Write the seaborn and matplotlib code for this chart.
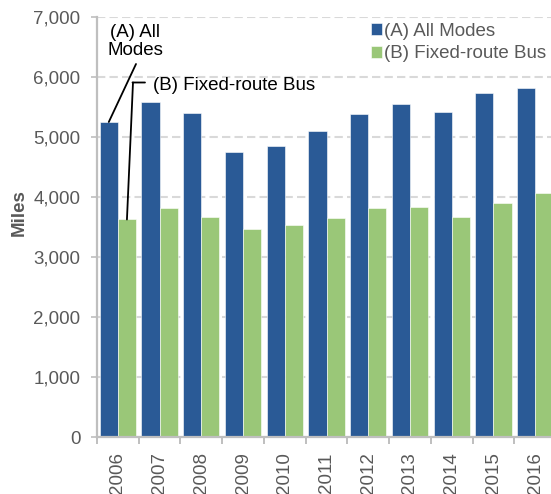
import matplotlib
matplotlib.use("Agg")
import matplotlib.pyplot as plt
import matplotlib.ticker as mticker
import seaborn as sns
import pandas as pd
import numpy as np


years = ["2006", "2007", "2008", "2009", "2010", "2011",
         "2012", "2013", "2014", "2015", "2016"]
all_modes = [5250, 5590, 5405, 4755, 4850, 5100, 5380, 5555, 5410, 5735, 5810]
fixed_route_bus = [3625, 3815, 3665, 3470, 3530, 3645, 3815, 3835, 3665, 3900, 4060]
series_names = ["(A) All Modes", "(B) Fixed-route Bus"]
y_ticks = [0, 1000, 2000, 3000, 4000, 5000, 6000, 7000]

BLUE = "#2A5A96"
GREEN = "#9AC778"
GRAY_TXT = "#595959"
GRAY_AX = "#BFBFBF"
FS = 13.5


def main():
    sns.set_style("white")
    plt.rcParams["font.family"] = ["Liberation Sans", "DejaVu Sans"]

    df = pd.DataFrame({
        "year": years * 2,
        "miles": all_modes + fixed_route_bus,
        "mode": [series_names[0]] * len(years) + [series_names[1]] * len(years),
    })

    W, H = 551, 494
    fig = plt.figure(figsize=(W / 100, H / 100), dpi=100)
    ax = fig.add_axes([97 / W, 57 / H, 459 / W, 420 / H])

    sns.barplot(data=df, x="year", y="miles", hue="mode", order=years,
                hue_order=series_names, palette=[BLUE, GREEN],
                width=0.87, gap=0, saturation=1, edgecolor="white",
                linewidth=0.4, ax=ax)

    ax.set_xlim(-0.5, len(years) - 0.5)
    ax.set_ylim(0, 7000)
    ax.set_yticks(y_ticks)
    ax.yaxis.set_major_formatter(mticker.StrMethodFormatter("{x:,.0f}"))

    # grid
    ax.set_axisbelow(True)
    ax.yaxis.grid(True, color="#D9D9D9", linewidth=1.5, linestyle=(0, (4, 2)))
    ax.xaxis.grid(False)

    for side in ["top", "right"]:
        ax.spines[side].set_visible(False)
    for side in ["left", "bottom"]:
        ax.spines[side].set_color(GRAY_AX)
        ax.spines[side].set_linewidth(1.6)

    ax.tick_params(axis="y", which="major", direction="out", length=4,
                   width=1.2, color=GRAY_AX, labelsize=FS,
                   labelcolor=GRAY_TXT, pad=8, left=True)
    ax.set_xticks(np.arange(len(years)))
    ax.set_xticklabels(years, rotation=90)
    ax.set_xticks(np.arange(len(years) + 1) - 0.5, minor=True)
    ax.tick_params(axis="x", which="major", length=0, labelsize=FS,
                   labelcolor=GRAY_TXT, pad=11)
    ax.tick_params(axis="x", which="minor", direction="out", length=5,
                   width=1.4, color=GRAY_AX, bottom=True)

    ax.set_xlabel("")
    ax.set_ylabel("Miles", fontsize=FS, fontweight="bold", color=GRAY_TXT)
    ax.yaxis.set_label_coords((28 - 97) / 459, (437 - 213) / 420)

    handles, labels = ax.get_legend_handles_labels()
    ax.legend(handles, labels, loc="upper left", frameon=False,
              bbox_to_anchor=(371 / W, 1 - 23 / H),
              bbox_transform=fig.transFigure, borderpad=0, borderaxespad=0,
              handlelength=0.6, handleheight=0.6, handletextpad=0.12,
              labelspacing=0.28, fontsize=FS, labelcolor=GRAY_TXT)

    # callouts pointing at the 2006 bars
    bar_a = ax.containers[0][0]
    bar_b = ax.containers[1][0]
    a_xy = (bar_a.get_x() + bar_a.get_width() / 2, bar_a.get_height())
    b_xy = (bar_b.get_x() + bar_b.get_width() / 2, bar_b.get_height())

    fig.text(135 / W, 1 - 55 / H, "(A) All\nModes", ha="center",
             va="baseline", multialignment="center", fontsize=FS,
             color="black", linespacing=1.05)
    ax.annotate("", xy=a_xy, xycoords="data", xytext=(136, H - 64),
                textcoords="figure pixels",
                arrowprops=dict(arrowstyle="-", color="black", lw=1.3,
                                shrinkA=0, shrinkB=0))

    fig.text(153 / W, 1 - 90 / H, "(B) Fixed-route Bus", ha="left",
             va="baseline", fontsize=FS, color="black")
    ax.annotate("", xy=b_xy, xycoords="data", xytext=(133, H - 82.5),
                textcoords="figure pixels",
                arrowprops=dict(arrowstyle="-", color="black", lw=1.3,
                                shrinkA=0, shrinkB=0))
    ax.annotate("", xy=(145, H - 82.5), xycoords="figure pixels",
                xytext=(132.5, H - 82.5), textcoords="figure pixels",
                arrowprops=dict(arrowstyle="-", color="black", lw=1.3,
                                shrinkA=0, shrinkB=0))

    fig.savefig("out.png", dpi=100)
    plt.close(fig)


if __name__ == "__main__":
    main()
